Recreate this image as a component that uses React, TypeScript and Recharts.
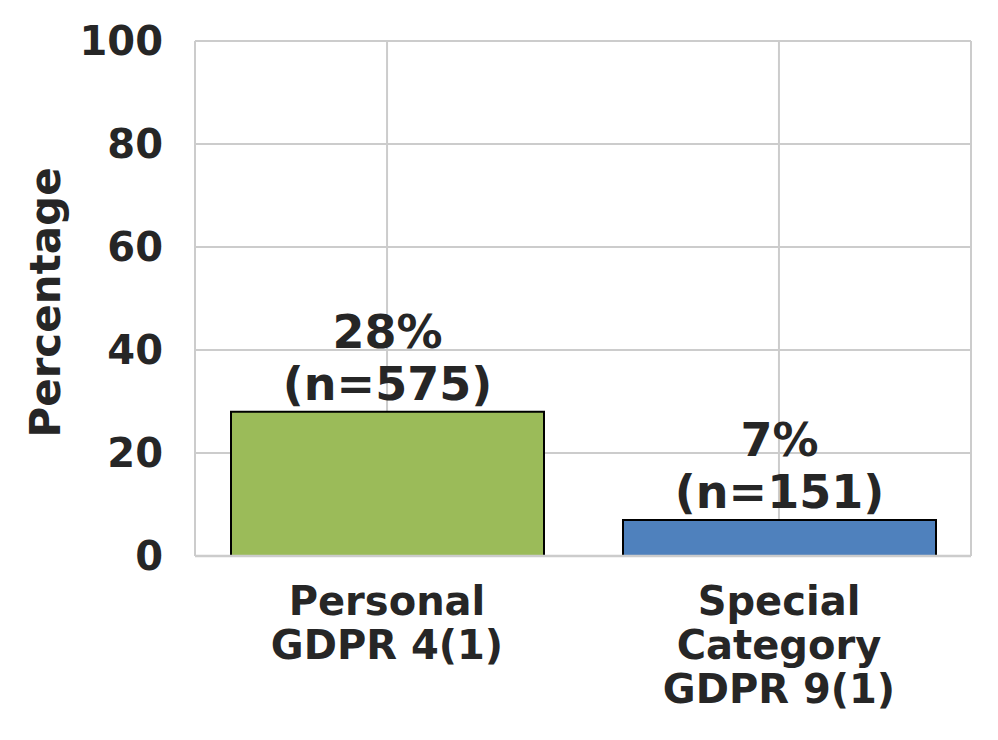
import { Bar, BarChart, CartesianGrid, Cell, LabelList, ReferenceLine, XAxis, YAxis } from "recharts";

const categories = ["Personal\nGDPR 4(1)", "Special\nCategory\nGDPR 9(1)"];
const percentages = [28, 7];
const counts = [575, 151];
const barColors = ["#9bbb59", "#4f81bd"];
const yTicks = [0, 20, 40, 60, 80, 100];

const data = categories.map((category, i) => ({
  category,
  pct: percentages[i],
  n: counts[i],
}));

const FONT = "'DejaVu Sans', sans-serif";
const INK = "#262626";
const GRID = "#cccccc";

function CategoryTick({ x, y, payload }: any) {
  const lines = String(payload.value).split("\n");
  return (
    <text x={x} y={y} textAnchor="middle" fontFamily={FONT} fontWeight="bold" fontSize={40} fill={INK}>
      {lines.map((line, i) => (
        <tspan key={i} x={x} dy={i === 0 ? 59 : 44}>
          {line}
        </tspan>
      ))}
    </text>
  );
}

function BarNote({ x, y, width, index }: any) {
  const cx = Number(x) + Number(width) / 2;
  const top = Number(y);
  return (
    <text textAnchor="middle" fontFamily={FONT} fontWeight="bold" fontSize={46} fill={INK}>
      <tspan x={cx} y={top - 64}>{`${percentages[index]}%`}</tspan>
      <tspan x={cx} y={top - 12}>{`(n=${counts[index]})`}</tspan>
    </text>
  );
}

function AxisTitle({ viewBox }: any) {
  const cx = viewBox.x + 45;
  const cy = viewBox.y + viewBox.height / 2 + 4;
  return (
    <text
      x={cx}
      y={cy}
      transform={`rotate(-90, ${cx}, ${cy})`}
      textAnchor="middle"
      dominantBaseline="central"
      fontFamily={FONT}
      fontWeight="bold"
      fontSize={42}
      fill={INK}
    >
      Percentage
    </text>
  );
}

// x limits like matplotlib: -0.49 .. 1.49 for two bars at 0 and 1
const gridX = ({ offset }: any) => [
  offset.left,
  offset.left + (offset.width * 0.49) / 1.98,
  offset.left + (offset.width * 1.49) / 1.98,
  offset.left + offset.width,
];

export default function App() {
  return (
    <div style={{ position: "absolute", left: 0, top: 0, background: "#fff" }}>
      <BarChart
        width={998}
        height={740}
        data={data}
        margin={{ top: 41, right: 27, bottom: 0, left: 0 }}
      >
        <CartesianGrid stroke={GRID} strokeWidth={2} verticalCoordinatesGenerator={gridX} />
        <XAxis
          dataKey="category"
          height={184}
          axisLine={false}
          tickLine={false}
          tickSize={0}
          tickMargin={0}
          interval={0}
          padding={{ left: -4, right: -4 }}
          tick={<CategoryTick />}
        />
        <YAxis
          width={195}
          domain={[0, 100]}
          ticks={yTicks}
          axisLine={false}
          tickLine={false}
          tickSize={0}
          tickMargin={32}
          tick={{ fontFamily: FONT, fontWeight: "bold", fontSize: 40, fill: INK }}
          label={<AxisTitle />}
        />
        <Bar dataKey="pct" barSize={313} stroke="#000" strokeWidth={2} isAnimationActive={false}>
          {data.map((_, i) => (
            <Cell key={i} fill={barColors[i]} />
          ))}
          <LabelList dataKey="pct" content={<BarNote />} />
        </Bar>
        <ReferenceLine y={0} stroke={GRID} strokeWidth={2.5} />
      </BarChart>
    </div>
  );
}
